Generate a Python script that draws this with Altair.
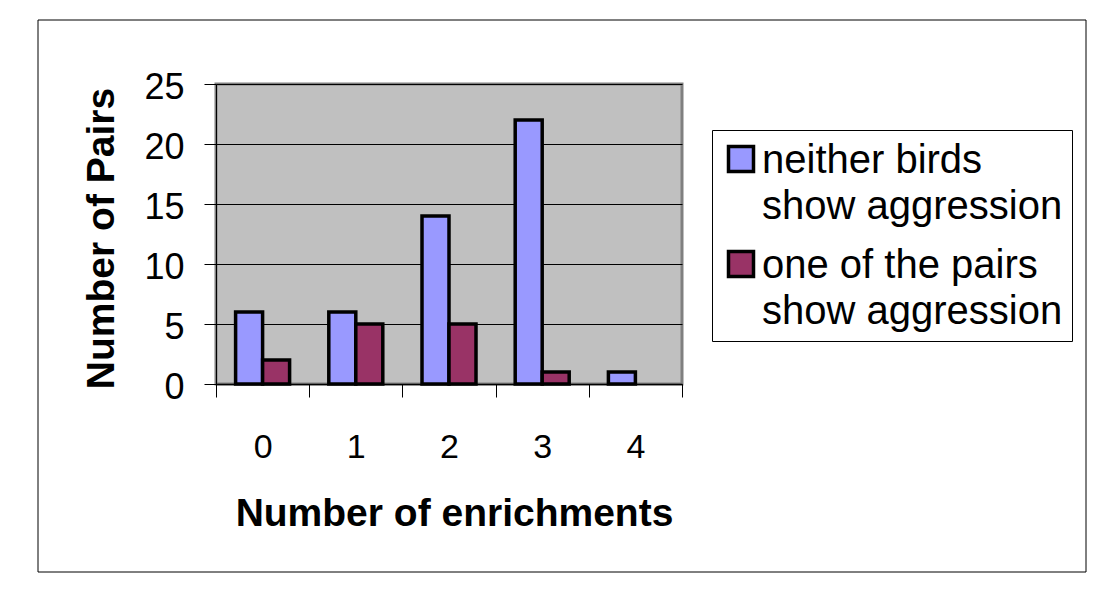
import altair as alt
import pandas as pd

categories = ["0", "1", "2", "3", "4"]
series = ["neither birds show aggression", "one of the pairs show aggression"]
neither = [6, 6, 14, 22, 1]
one_of = [2, 5, 5, 1, 0]
colors = ["#9999FF", "#993366"]
y_ticks = [0, 5, 10, 15, 20, 25]

rows = []
for c, a, b in zip(categories, neither, one_of):
    rows.append({"enrich": c, "series": series[0], "count": a})
    rows.append({"enrich": c, "series": series[1], "count": b})
df = pd.DataFrame(rows)

FONT = "Liberation Sans"

label_expr = (
    "datum.label == '" + series[0] + "' ? ['neither birds', 'show aggression'] "
    ": ['one of the pairs', 'show aggression']"
)

bars = alt.Chart(df).transform_filter("datum.count > 0").mark_bar(
    stroke="black", strokeWidth=3.5
).encode(
    x=alt.X(
        "enrich:N",
        sort=categories,
        scale=alt.Scale(paddingInner=0, paddingOuter=0),
        axis=alt.Axis(
            title="Number of enrichments",
            labelAngle=0,
            tickBand="extent",
            grid=False,
            domainColor="black",
            domainWidth=1.5,
            tickColor="black",
            tickSize=13,
            labelFont=FONT,
            labelFontSize=34,
            labelColor="black",
            labelPadding=46,
            labelBaseline="alphabetic",
            titleFont=FONT,
            titleFontSize=39,
            titleFontWeight="bold",
            titleColor="black",
            titleX=238,
            titleY=141,
            titleBaseline="alphabetic",
        ),
    ),
    xOffset=alt.XOffset(
        "series:N", sort=series, scale=alt.Scale(paddingInner=0, paddingOuter=0.726)
    ),
    y=alt.Y(
        "count:Q",
        scale=alt.Scale(domain=[0, 25]),
        axis=alt.Axis(
            values=y_ticks,
            title="Number of Pairs",
            grid=True,
            gridColor="black",
            gridWidth=1,
            domainColor="black",
            tickColor="black",
            tickSize=12,
            labelFont=FONT,
            labelFontSize=36,
            labelColor="black",
            labelPadding=20,
            labelBaseline="alphabetic",
            titleFont=FONT,
            titleFontSize=39,
            titleFontWeight="bold",
            titleColor="black",
            titleAngle=270,
            titleX=-103,
            titleY=154,
            titleAlign="center",
            titleBaseline="alphabetic",
        ),
    ),
    color=alt.Color(
        "series:N",
        sort=series,
        scale=alt.Scale(domain=series, range=colors),
        legend=alt.Legend(
            title=None,
            orient="none",
            legendX=496,
            legendY=46,
            padding=9,
            strokeColor="black",
            fillColor="white",
            symbolType="square",
            symbolSize=625,
            symbolStrokeColor="black",
            symbolStrokeWidth=3.5,
            labelFont=FONT,
            labelFontSize=40,
            labelColor="black",
            labelLimit=600,
            labelOffset=1,
            labelBaseline="alphabetic",
            rowPadding=17,
            labelExpr=label_expr,
        ),
    ),
)

frame = alt.Chart(pd.DataFrame({"a": [0]})).mark_rect(
    fillOpacity=0, stroke="black", strokeWidth=1
).encode(
    x=alt.value(-178), x2=alt.value(870), y=alt.value(-64), y2=alt.value(488)
)

chart = alt.layer(frame, bars).properties(
    width=466,
    height=300,
    autosize=alt.AutoSizeParams(type="none"),
    padding={"left": 208, "top": 76, "right": 419, "bottom": 199},
    background="white",
).configure(
    style={"guide-label": {"dy": 14, "lineHeight": 46}},
).configure_view(
    fill="#C0C0C0", stroke="#808080", strokeWidth=3
)

chart.save("out.html", embed_options={"renderer": "svg", "actions": False})
